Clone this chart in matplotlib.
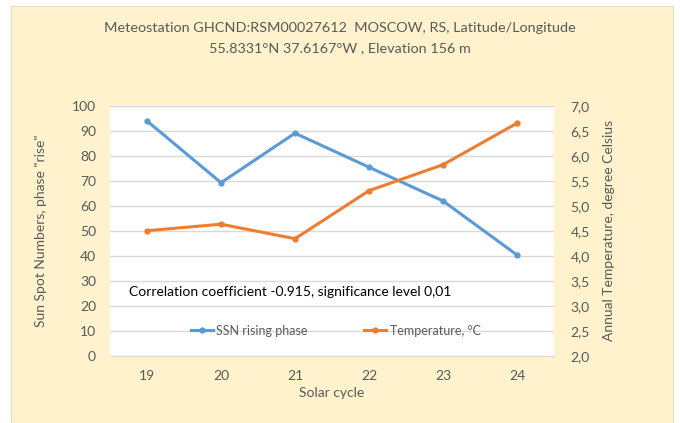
import matplotlib
matplotlib.use("Agg")
import matplotlib.pyplot as plt
from matplotlib.patches import Rectangle

cycles = [19, 20, 21, 22, 23, 24]
ssn_rise = [93.9, 69.2, 89.0, 75.4, 61.9, 40.3]
temperature = [4.50, 4.63, 4.34, 5.30, 5.82, 6.65]
left_ticks = list(range(0, 101, 10))
right_ticks = [2.0, 2.5, 3.0, 3.5, 4.0, 4.5, 5.0, 5.5, 6.0, 6.5, 7.0]

plt.rcParams['font.family'] = ['Lato', 'DejaVu Sans']
gray = '#595959'
blue = '#5B9BD5'
orange = '#ED7D31'

fig = plt.figure(figsize=(6.8, 4.23), dpi=100, facecolor='white')
fig.patches.append(Rectangle((11/680, 0), (673-11)/680, 1-6/423, transform=fig.transFigure,
                             facecolor='#FFF2CC', edgecolor='#E6DCC0', lw=0.8, zorder=-10))

ax = fig.add_axes([110/680, 1-355.7/423, 444/680, 250/423])
ax.set_facecolor('white')
ax.set_xlim(18.5, 24.5)
ax.set_ylim(0, 100)
ax.set_yticks(left_ticks)
ax.set_xticks(cycles)
ax.set_xticklabels([str(c) for c in cycles])
for s in ['top', 'left', 'right']:
    ax.spines[s].set_visible(False)
ax.spines['bottom'].set_color('#D9D9D9')
ax.tick_params(length=0, colors=gray, labelsize=10)
ax.tick_params(axis='x', pad=10)
ax.tick_params(axis='y', pad=10)
ax.grid(axis='y', color='#D9D9D9', lw=1)
ax.set_axisbelow(True)

l1, = ax.plot(cycles, ssn_rise, color=blue, lw=2.2, marker='o', ms=3.5, label='SSN rising phase', zorder=3)

ax2 = ax.twinx()
ax2.set_ylim(2.0, 7.0)
ax2.set_yticks(right_ticks)
ax2.set_yticklabels([f"{t:.1f}".replace('.', ',') for t in right_ticks])
for s in ['top', 'left', 'right', 'bottom']:
    ax2.spines[s].set_visible(False)
ax2.tick_params(length=0, colors=gray, labelsize=10, pad=12)
l2, = ax2.plot(cycles, temperature, color=orange, lw=2.2, marker='o', ms=3.5, label='Temperature, °C', zorder=3)

ax.set_xlabel('Solar cycle', color=gray, fontsize=10, labelpad=4)
ax.set_ylabel('Sun Spot Numbers, phase "rise"', color=gray, fontsize=10, labelpad=18)
ax2.set_ylabel('Annual Temperature, degree Celsius', color=gray, fontsize=10, labelpad=9)

ax.text(129/680, 1-292/423, 'Correlation coefficient -0.915, significance level 0,01',
        transform=fig.transFigure, fontsize=10, color='black', va='center', ha='left')

leg = ax.legend(handles=[l1, l2], loc='center', bbox_to_anchor=(0.508, 0.1), ncol=2,
                frameon=False, fontsize=9, handlelength=1.8, handletextpad=0.25,
                columnspacing=4.5, labelcolor=gray)

fig.text(0.5, 1-28/423, 'Meteostation GHCND:RSM00027612  MOSCOW, RS, Latitude/Longitude',
         ha='center', va='center', fontsize=10.4, color=gray)
fig.text(0.5, 1-48/423, '55.8331°N 37.6167°W , Elevation 156 m',
         ha='center', va='center', fontsize=10.4, color=gray)

fig.savefig('out.png', dpi=100, facecolor='white')
